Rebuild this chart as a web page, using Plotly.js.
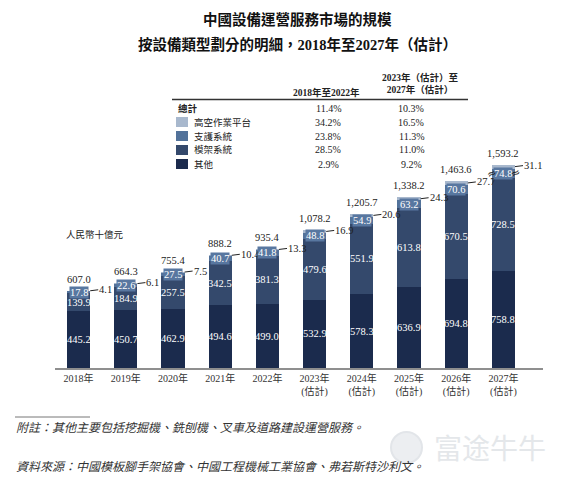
<!DOCTYPE html>
<html>
<head>
<meta charset="utf-8">
<script src="https://cdn.plot.ly/plotly-3.0.1.min.js"></script>
<style>
html,body{margin:0;padding:0;background:#fff;}
#chart{width:569px;height:486px;}
</style>
</head>
<body>
<div id="chart"></div>
<script>
// ---------- data ----------
const years = ['2018年','2019年','2020年','2021年','2022年',
  '2023年<br>(估計)','2024年<br>(估計)','2025年<br>(估計)','2026年<br>(估計)','2027年<br>(估計)'];
const seriesNames = ['其他','模架系統','支護系統','高空作業平台'];
const other    = [445.2, 450.7, 462.9, 494.6, 499.0, 532.9, 578.3, 636.9, 694.8, 758.8];
const formwork = [139.9, 184.9, 257.5, 342.5, 381.3, 479.6, 551.9, 613.8, 670.5, 728.5];
const support  = [17.8, 22.6, 27.5, 40.7, 41.8, 48.8, 54.9, 63.2, 70.6, 74.8];
const aerial   = [4.1, 6.1, 7.5, 10.4, 13.3, 16.9, 20.6, 24.3, 27.7, 31.1];
const totals   = [607.0, 664.3, 755.4, 888.2, 935.4, 1078.2, 1205.7, 1338.2, 1463.6, 1593.2];

const tableRows = ['總計','高空作業平台','支護系統','模架系統','其他'];
const cagrHist  = ['11.4%','34.2%','23.8%','28.5%','2.9%'];
const cagrFcst  = ['10.3%','16.5%','11.3%','11.0%','9.2%'];
const colHead1  = '2018年至2022年';
const colHead2  = '2023年（估計）至<br>2027年（估計）';

const titleLine1 = '中國設備運營服務市場的規模';
const titleLine2 = '按設備類型劃分的明細，2018年至2027年（估計）';
const unitText  = '人民幣十億元';
const noteText  = '附註：其他主要包括挖掘機、銑刨機、叉車及道路建設運營服務。';
const srcText   = '資料來源：中國模板腳手架協會、中國工程機械工業協會、弗若斯特沙利文。';
const watermark = '富途牛牛';

// ---------- style ----------
const colors = {'其他':'#1b2b4d','模架系統':'#34496c','支護系統':'#52729a','高空作業平台':'#a8b8cd'};
const FONT = "'Liberation Serif', 'Noto Sans CJK TC', serif";
const W = 569, H = 486;
const M = {l:55, r:26, t:151, b:118};
const PW = W - M.l - M.r, PH = H - M.t - M.b;
const px = X => (X - M.l) / PW;
const py = Y => (H - M.b - Y) / PH;

const seriesVals = [other, formwork, support, aerial];
const traces = seriesNames.map((n, k) => ({
  type:'bar', name:n, x:years, y:seriesVals[k],
  marker:{color:colors[n], line:{width:0}},
  hoverinfo:'skip'
}));

const fmt1 = v => v.toFixed(1);
const fmtT = v => v.toLocaleString('en-US',{minimumFractionDigits:1, maximumFractionDigits:1});
const half = 0.246;

const ann = [];
years.forEach((yr, i) => {
  const c0 = other[i], c1 = c0 + formwork[i], c2 = c1 + support[i], c3 = c2 + aerial[i];
  ann.push({x:i, y:c0/2, xref:'x', yref:'y', text:fmt1(other[i]), showarrow:false,
    font:{family:FONT, size:10.5, color:'#ffffff'}});
  ann.push({x:i, y:c0 + formwork[i]/2, xref:'x', yref:'y', text:fmt1(formwork[i]), showarrow:false,
    font:{family:FONT, size:10.5, color:'#ffffff'}});
  ann.push({x:i, y:c1 + support[i]/2, xref:'x', yref:'y', text:fmt1(support[i]), showarrow:false,
    bgcolor:'#5877a0', borderpad:0,
    font:{family:FONT, size:10.5, color:'#ffffff'}});
  ann.push({x:i + half, y:c2 + aerial[i]/2, xref:'x', yref:'y', text:fmt1(aerial[i]),
    showarrow:true, arrowhead:0, arrowwidth:1, arrowcolor:'#222', standoff:0, startstandoff:0,
    ax:8, ay:-1, xanchor:'left', borderpad:0,
    font:{family:FONT, size:10.5, color:'#222'}});
  ann.push({x:i, y:c3, xref:'x', yref:'y', text:fmtT(totals[i]), showarrow:false,
    yanchor:'bottom', yshift:4, font:{family:FONT, size:10.5, color:'#222'}});
});
// axis-break marks on the last bar
const li = years.length - 1;
const bc = other[li] + formwork[li] + support[li]/2;
[-half, half].forEach(d => ann.push({x:li + d, y:bc, xref:'x', yref:'y', text:'≈', showarrow:false,
  textangle:-25, font:{family:'DejaVu Sans', size:11, color:'#222'}}));

// helper for paper-positioned text
function ptext(X, Y, text, font, xanchor) {
  ann.push({x:px(X), y:py(Y), xref:'paper', yref:'paper', text:text, showarrow:false,
    xanchor:xanchor || 'center', yanchor:'middle', align:'center', font:font});
}
// title
ptext(297, 19, '<b>'+titleLine1+'</b>', {family:FONT, size:14.5, color:'#111'});
ptext(297, 44, '<b>'+titleLine2+'</b>', {family:FONT, size:14.5, color:'#111'});
// unit
ptext(64, 234, unitText, {family:FONT, size:9.5, color:'#222'}, 'left');
// table headers
ptext(326, 92, '<b>'+colHead1+'</b>', {family:FONT, size:9.5, color:'#222'});
ptext(420, 84, '<b>'+colHead2+'</b>', {family:FONT, size:9.5, color:'#222'});
const shapes = [];
shapes.push({type:'line', xref:'paper', yref:'paper', x0:px(172), x1:px(468), y0:py(99.5), y1:py(99.5),
  line:{color:'#333', width:1.5}});
const rowY = [108, 122, 136, 150, 164];
tableRows.forEach((r, k) => {
  const isTotal = k === 0;
  ptext(isTotal ? 176 : 192, rowY[k], isTotal ? '<b>'+r+'</b>' : r,
    {family:FONT, size:9.5, color:'#222'}, 'left');
  ptext(328, rowY[k], cagrHist[k], {family:FONT, size:10, color:'#222'});
  ptext(411, rowY[k], cagrFcst[k], {family:FONT, size:10, color:'#222'});
  if (!isTotal) {
    shapes.push({type:'rect', xref:'paper', yref:'paper', x0:px(176), x1:px(188),
      y0:py(rowY[k]+5), y1:py(rowY[k]-5), fillcolor:colors[r], line:{width:0}});
  }
});
// footnotes
shapes.push({type:'line', xref:'paper', yref:'paper', x0:px(15), x1:px(90), y0:py(417), y1:py(417),
  line:{color:'#777', width:1}});
ptext(14, 428, '<i>'+noteText+'</i>', {family:FONT, size:12, color:'#333'}, 'left');
ptext(14, 467, '<i>'+srcText+'</i>', {family:FONT, size:12, color:'#333'}, 'left');
// watermark
shapes.push({type:'circle', xref:'paper', yref:'paper', x0:px(391), x1:px(422), y0:py(463), y1:py(432),
  fillcolor:'#eceef1', line:{color:'#e2e5e9', width:2}, layer:'below'});
ptext(490, 447, watermark, {family:"'Noto Sans CJK SC', sans-serif", size:28, color:'#e4e7ea'});

const layout = {
  width:W, height:H, margin:M,
  paper_bgcolor:'#ffffff', plot_bgcolor:'#ffffff',
  barmode:'stack', bargap:0.508, showlegend:false,
  font:{family:FONT, color:'#333'},
  xaxis:{type:'category', showline:true, linecolor:'#8f8f8f', linewidth:2, ticks:'',
    tickfont:{family:FONT, size:10, color:'#333'}, showgrid:false, zeroline:false, fixedrange:true},
  yaxis:{visible:false, range:[0,1700], fixedrange:true},
  annotations:ann, shapes:shapes
};
Plotly.newPlot('chart', traces, layout, {displayModeBar:false, staticPlot:true});
</script>
</body>
</html>
